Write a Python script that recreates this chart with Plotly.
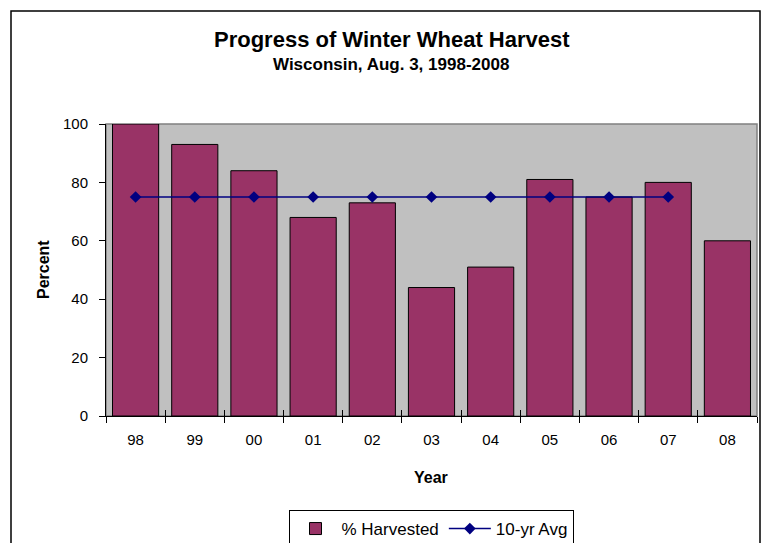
import plotly.graph_objects as go

years = ["98", "99", "00", "01", "02", "03", "04", "05", "06", "07", "08"]
harvested = [100, 93, 84, 68, 73, 44, 51, 81, 75, 80, 60]
avg_years = ["98", "99", "00", "01", "02", "03", "04", "05", "06", "07"]
avg_values = [75] * 10
y_ticks = [0, 20, 40, 60, 80, 100]

W, H = 773, 543
L, R, T, B = 106, 757, 124, 416

def px(x):
    return (x - L) / (R - L)

def py(y):
    return (B - y) / (B - T)

FONT = "Liberation Sans, Arial, sans-serif"

fig = go.Figure()
fig.add_trace(go.Bar(
    x=years, y=harvested, name="% Harvested",
    marker=dict(color="#993366", line=dict(color="#000000", width=1)),
))
fig.add_trace(go.Scatter(
    x=avg_years, y=avg_values, name="10-yr Avg", mode="lines+markers",
    line=dict(color="#000080", width=1.5),
    marker=dict(symbol="diamond", size=9, color="#000080"),
))
# invisible helper on overlay axis for inside ("cross") tick marks
fig.add_trace(go.Scatter(
    x=years, y=harvested, xaxis="x2", mode="markers",
    marker=dict(opacity=0), showlegend=False, hoverinfo="skip",
))

fig.update_layout(
    width=W, height=H,
    margin=dict(l=L, r=W - R, t=T, b=H - B, pad=0, autoexpand=False),
    paper_bgcolor="white", plot_bgcolor="#C0C0C0",
    bargap=0.22,
    showlegend=True,
    font=dict(family=FONT, color="black", size=14),
    xaxis=dict(
        type="category", categoryarray=years, tickson="boundaries",
        ticks="outside", ticklen=6, tickcolor="black", tickwidth=1,
        showline=True, linecolor="black", linewidth=1,
        showgrid=False, zeroline=False,
        tickfont=dict(size=15, family=FONT), ticklabelstandoff=10,
        range=[-0.5, 10.5],
    ),
    xaxis2=dict(
        type="category", categoryarray=years, overlaying="x", matches="x",
        tickson="boundaries", ticks="inside", ticklen=6, tickcolor="black",
        showticklabels=False, showgrid=False, zeroline=False, showline=False,
        side="bottom", anchor="y",
    ),
    yaxis=dict(
        range=[0, 100], tickvals=y_ticks,
        ticks="outside", ticklen=6, tickcolor="black", tickwidth=1,
        showline=True, linecolor="black", linewidth=1,
        showgrid=False, zeroline=False,
        tickfont=dict(size=15, family=FONT), ticklabelstandoff=8,
    ),
    legend=dict(
        orientation="h", xref="container", yref="container",
        x=431 / W, xanchor="center", y=1 - 510 / H, yanchor="top",
        bordercolor="black", borderwidth=1, bgcolor="white",
        font=dict(size=17, family=FONT), itemwidth=42,
        tracegroupgap=0,
    ),
    shapes=[
        dict(type="rect", xref="paper", yref="paper",
             x0=px(11), x1=px(760), y0=py(560), y1=py(11),
             line=dict(color="black", width=1.5), fillcolor="rgba(0,0,0,0)",
             layer="below"),
        dict(type="rect", xref="paper", yref="paper",
             x0=0, x1=1, y0=0, y1=1,
             line=dict(color="#808080", width=1.5), fillcolor="rgba(0,0,0,0)",
             layer="below"),
    ],
    annotations=[
        dict(text="<b>Progress of Winter Wheat Harvest</b>", xref="paper", yref="paper",
             x=px(392), y=py(40), xanchor="center", yanchor="middle", showarrow=False,
             font=dict(size=22, family=FONT)),
        dict(text="<b>Wisconsin, Aug. 3, 1998-2008</b>", xref="paper", yref="paper",
             x=px(391), y=py(64), xanchor="center", yanchor="middle", showarrow=False,
             font=dict(size=17, family=FONT)),
        dict(text="<b>Year</b>", xref="paper", yref="paper",
             x=px(431), y=py(477), xanchor="center", yanchor="middle", showarrow=False,
             font=dict(size=16, family=FONT)),
        dict(text="<b>Percent</b>", xref="paper", yref="paper", textangle=-90,
             x=px(43), y=py(270), xanchor="center", yanchor="middle", showarrow=False,
             font=dict(size=16, family=FONT)),
    ],
)

fig.write_html("out.html", config={"displayModeBar": False},
               post_script="document.body.style.margin='0';")
